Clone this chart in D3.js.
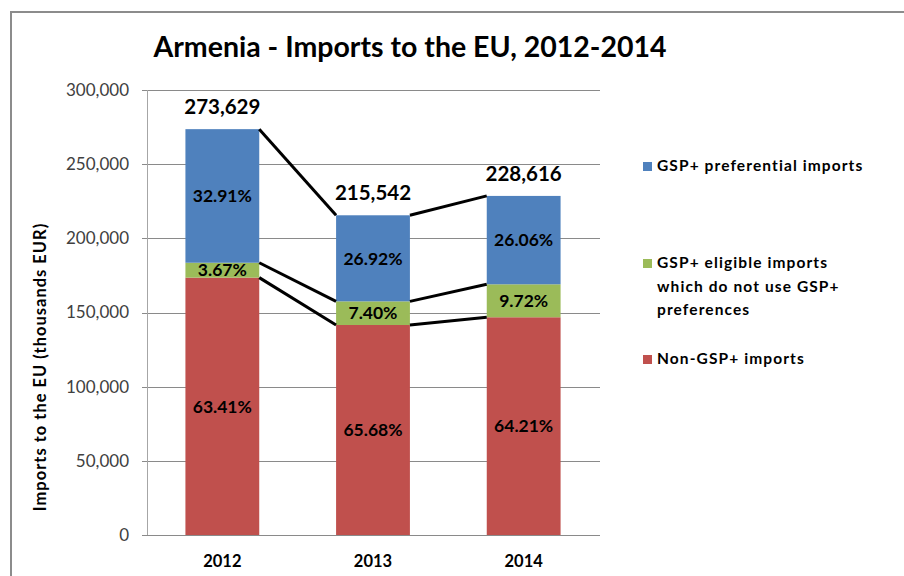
<!DOCTYPE html>
<html>
<head>
<meta charset="utf-8">
<script src="https://cdn.jsdelivr.net/npm/d3@7"></script>
<style>
  html, body { margin: 0; padding: 0; background: #fff; }
  svg { display: block; font-family: Lato, "Open Sans", sans-serif; }
</style>
</head>
<body>
<svg id="chart" width="904" height="576"></svg>
<script>
// Armenian imports to the EU, split by GSP+ status
const years = ["2012", "2013", "2014"];
const totals = [273629, 215542, 228616];
const nonGspPct = [63.41, 65.68, 64.21];
const eligiblePct = [3.67, 7.40, 9.72];
const preferentialPct = [32.91, 26.92, 26.06];
const seriesNames = [
  "Non-GSP+ imports",
  "GSP+ eligible imports which do not use GSP+ preferences",
  "GSP+ preferential imports"
];
const yTicks = [0, 50000, 100000, 150000, 200000, 250000, 300000];

const colors = ["#C0504D", "#9BBB59", "#4F81BD"];
const pctSeries = [nonGspPct, eligiblePct, preferentialPct];
const keys = ["nonGsp", "eligible", "preferential"];

// segment values derived from each year's total and share
const rows = years.map((yr, i) => {
  const r = { year: yr, total: totals[i] };
  keys.forEach((k, s) => { r[k] = totals[i] * pctSeries[s][i] / 100; r[k + "Pct"] = pctSeries[s][i]; });
  return r;
});

const svg = d3.select("#chart");

// outer chart frame
svg.append("rect")
  .attr("x", 11).attr("y", 12)
  .attr("width", 920).attr("height", 600)
  .attr("fill", "none").attr("stroke", "#8c8c8c").attr("stroke-width", 2);

const plotLeft = 147, plotRight = 600, plotTop = 90, plotBottom = 535;

const x = d3.scaleBand().domain(years).range([plotLeft, plotRight - 1])
  .paddingInner(0.51).paddingOuter(0.255);
const y = d3.scaleLinear().domain([0, 300000]).range([plotBottom, plotTop]);

// title
svg.append("text")
  .attr("x", 410).attr("y", 57)
  .attr("text-anchor", "middle")
  .attr("font-size", 28.5).attr("font-weight", "bold")
  .attr("fill", "#000")
  .text("Armenia - Imports to the EU, 2012-2014");

// gridlines with outside tick marks
svg.append("g").selectAll("line").data(yTicks.filter(d => d > 0)).join("line")
  .attr("x1", plotLeft - 5).attr("x2", plotRight)
  .attr("y1", d => Math.round(y(d)) + 0.5).attr("y2", d => Math.round(y(d)) + 0.5)
  .attr("stroke", "#8a8a8a").attr("stroke-width", 1);

// y axis labels
const fmt = d3.format(",");
svg.append("g").selectAll("text").data(yTicks).join("text")
  .attr("x", 129).attr("y", d => y(d))
  .attr("dy", "0.35em")
  .attr("text-anchor", "end")
  .attr("font-size", 17).attr("fill", "#404040")
  .text(d => fmt(d));

// y axis title
svg.append("text")
  .attr("transform", "translate(46,367) rotate(-90)")
  .attr("text-anchor", "middle")
  .attr("font-size", 16.5).attr("font-weight", "bold").attr("fill", "#000")
  .attr("letter-spacing", 1)
  .text("Imports to the EU (thousands EUR)");

// stacked bars
const stack = d3.stack().keys(keys);
const stacked = stack(rows);

const barsGroup = svg.append("g");
const layers = barsGroup.selectAll("g").data(stacked).join("g")
  .attr("fill", (d, i) => colors[i]);

layers.selectAll("rect").data(d => d).join("rect")
  .attr("x", d => x(d.data.year))
  .attr("width", x.bandwidth())
  .attr("y", d => y(d[1]))
  .attr("height", d => y(d[0]) - y(d[1]));

// series connector lines between neighbouring bars
const connectors = [];
stacked.forEach(layer => {
  for (let i = 0; i < layer.length - 1; i++) {
    connectors.push({
      x1: x(layer[i].data.year) + x.bandwidth(), y1: y(layer[i][1]),
      x2: x(layer[i + 1].data.year), y2: y(layer[i + 1][1])
    });
  }
});
svg.append("g").selectAll("line").data(connectors).join("line")
  .attr("x1", d => d.x1).attr("y1", d => d.y1)
  .attr("x2", d => d.x2).attr("y2", d => d.y2)
  .attr("stroke", "#000").attr("stroke-width", 3);

// axis lines
svg.append("line")
  .attr("x1", plotLeft - 5).attr("x2", plotRight)
  .attr("y1", plotBottom + 0.5).attr("y2", plotBottom + 0.5)
  .attr("stroke", "#8a8a8a");
svg.append("line")
  .attr("x1", plotLeft + 0.5).attr("x2", plotLeft + 0.5)
  .attr("y1", plotTop).attr("y2", plotBottom)
  .attr("stroke", "#a6a6a6");

// x axis labels
svg.append("g").selectAll("text").data(years).join("text")
  .attr("x", d => x(d) + x.bandwidth() / 2)
  .attr("y", 567)
  .attr("text-anchor", "middle")
  .attr("font-size", 16.5).attr("font-weight", "bold").attr("fill", "#000")
  .text(d => d);

// percentage labels inside segments
const pctGroup = svg.append("g");
stacked.forEach((layer, s) => {
  pctGroup.append("g").selectAll("text").data(layer).join("text")
    .attr("x", d => x(d.data.year) + x.bandwidth() / 2)
    .attr("y", d => (y(d[0]) + y(d[1])) / 2)
    .attr("dy", "0.36em")
    .attr("text-anchor", "middle")
    .attr("font-size", 17.5).attr("font-weight", "bold").attr("fill", "#000")
    .text(d => d.data[keys[s] + "Pct"].toFixed(2) + "%");
});

// totals above bars
svg.append("g").selectAll("text").data(rows).join("text")
  .attr("x", d => x(d.year) + x.bandwidth() / 2)
  .attr("y", d => y(d.total) - 15)
  .attr("text-anchor", "middle")
  .attr("font-size", 20.5).attr("font-weight", "bold").attr("fill", "#000")
  .text(d => fmt(d.total));

// legend, top series first
const legendItems = [
  { color: colors[2], lines: ["GSP+ preferential imports"], y: 171 },
  { color: colors[1], lines: ["GSP+ eligible imports", "which do not use GSP+", "preferences"], y: 268 },
  { color: colors[0], lines: ["Non-GSP+ imports"], y: 364 }
];
const legend = svg.append("g").selectAll("g").data(legendItems).join("g");
legend.append("rect")
  .attr("x", 643).attr("y", d => d.y - 9)
  .attr("width", 9).attr("height", 9)
  .attr("fill", d => d.color);
legend.append("text")
  .attr("x", 657).attr("y", d => d.y)
  .attr("font-size", 15.5).attr("font-weight", "bold").attr("fill", "#000")
  .attr("letter-spacing", 1.1)
  .selectAll("tspan").data(d => d.lines).join("tspan")
  .attr("x", 657).attr("dy", (d, i) => i === 0 ? 0 : 23.5)
  .text(d => d);
</script>
</body>
</html>
